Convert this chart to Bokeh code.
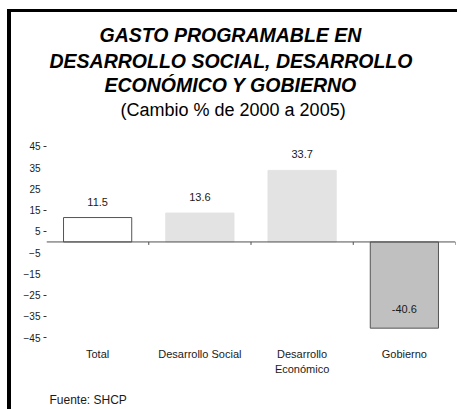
from bokeh.plotting import figure
from bokeh.models import (Range1d, Title, Span, LinearAxis,
                          FixedTicker, ColumnDataSource)
from bokeh.core.properties import value
from bokeh.embed import file_html
from bokeh.resources import INLINE

# ---- data ----
categories = ["Total", "Desarrollo Social", "Desarrollo Económico", "Gobierno"]
label_line1 = ["Total", "Desarrollo Social", "Desarrollo", "Gobierno"]
label_line2 = {"Desarrollo Económico": "Económico"}
values = [11.5, 13.6, 33.7, -40.6]
value_labels = ["11.5", "13.6", "33.7", "-40.6"]
y_ticks = [-45, -35, -25, -15, -5, 5, 15, 25, 35, 45]
y_tick_marks = [-45, -35, -25, 5, 15, 45]
title_lines = ["GASTO PROGRAMABLE EN", "DESARROLLO SOCIAL, DESARROLLO",
               "ECONÓMICO Y GOBIERNO"]
subtitle = "(Cambio % de 2000 a 2005)"
source_note = "Fuente: SHCP"

bar_fill = ["#ffffff", "#e3e3e3", "#e3e3e3", "#c0c0c0"]
bar_line = ["#555555", "#e3e3e3", "#e3e3e3", "#555555"]

FONT = "Liberation Sans"

# category slots on a numeric axis: slot i spans [i, i+1]
centers = [i + 0.5 for i in range(len(categories))]
bounds = [i + 1.0 for i in range(len(categories))]

src = ColumnDataSource(dict(
    x=centers, val=values, lab=value_labels,
    fill=bar_fill, line=bar_line,
    yoff=[-16 if v >= 0 else -19 for v in values],
))
sep = ColumnDataSource(dict(x=bounds, y0=[0] * len(bounds), y1=[-1.4] * len(bounds)))

p = figure(width=450, height=407,
           x_range=Range1d(0, len(categories)),
           y_range=Range1d(-45, 57.2),
           output_backend="svg", toolbar_location=None,
           min_border_left=35, min_border_right=6,
           min_border_top=108, min_border_bottom=81)
p.styles = {"margin-left": "7px", "margin-top": "9px",
            "margin-bottom": "-10px",
            "border-left": "4px solid #000000",
            "border-top": "3px solid #000000"}
p.outline_line_color = None
p.background_fill_color = "white"
p.border_fill_color = "white"
p.xgrid.visible = False
p.ygrid.visible = False

# bars
p.vbar(x="x", top="val", bottom=0, width=0.667, source=src,
       fill_color="fill", line_color="line", line_width=1)

# zero line and category separator ticks
p.add_layout(Span(location=0, dimension="width", line_color="#505050", line_width=1))
p.segment(x0="x", y0="y0", x1="x", y1="y1", source=sep,
          line_color="#505050", line_width=1)

# value labels
p.text(x="x", y="val", text="lab", y_offset="yoff", source=src,
       text_align="center", text_baseline="middle",
       text_font=value(FONT), text_font_size="11px", text_color="#1a1a1a")

# y axis: labels at major ticks, small marks at selected (minor) ticks
ya = p.yaxis[0]
ya.ticker = FixedTicker(ticks=y_ticks, minor_ticks=y_tick_marks)
ya.axis_line_color = None
ya.major_tick_in = 0
ya.major_tick_out = 3
ya.major_tick_line_color = None
ya.minor_tick_in = 0
ya.minor_tick_out = 3
ya.minor_tick_line_color = "#333333"
ya.major_label_standoff = 3
ya.major_label_text_font = FONT
ya.major_label_text_font_size = "10px"
ya.major_label_text_color = "#1a1a1a"

# x axis: category labels, first line
xa = p.xaxis[0]
xa.ticker = FixedTicker(ticks=centers)
xa.axis_line_color = None
xa.major_tick_in = 0
xa.major_tick_out = 0
xa.major_tick_line_color = None
xa.minor_tick_line_color = None
xa.major_label_standoff = 10
xa.major_label_overrides = {c: t for c, t in zip(centers, label_line1)}
xa.major_label_text_font = FONT
xa.major_label_text_font_size = "11px"
xa.major_label_text_color = "#1a1a1a"

# x axis: second line of wrapped category labels
second_x = [centers[categories.index(k)] for k in label_line2]
xb = LinearAxis(ticker=FixedTicker(ticks=second_x))
xb.axis_line_color = None
xb.major_tick_in = 0
xb.major_tick_out = 0
xb.major_tick_line_color = None
xb.minor_tick_line_color = None
xb.major_label_standoff = 0
xb.major_label_overrides = {centers[categories.index(k)]: v for k, v in label_line2.items()}
xb.major_label_text_font = FONT
xb.major_label_text_font_size = "11px"
xb.major_label_text_color = "#1a1a1a"
p.add_layout(xb, "below")

# source note
p.add_layout(Title(text=source_note, align="left", offset=3, standoff=26,
                   text_font=FONT, text_font_size="12px",
                   text_font_style="normal", text_color="#1a1a1a"), "below")

# titles (first added = closest to plot), left-aligned with per-line indents
p.add_layout(Title(text=subtitle, align="left", standoff=2, offset=74,
                   text_font=FONT, text_font_size="18px",
                   text_font_style="normal", text_color="#000000"), "above")
title_standoffs = [1, 0, 3]   # line3, line2, line1
title_offsets = [58, 3, 53]   # line3, line2, line1
for line, so, off in zip(reversed(title_lines), title_standoffs, title_offsets):
    p.add_layout(Title(text=line, align="left", standoff=so, offset=off,
                       text_font=FONT, text_font_size="19.5px",
                       text_font_style="bold italic", text_color="#000000"), "above")

open("out.html", "w").write(file_html(p, INLINE))
